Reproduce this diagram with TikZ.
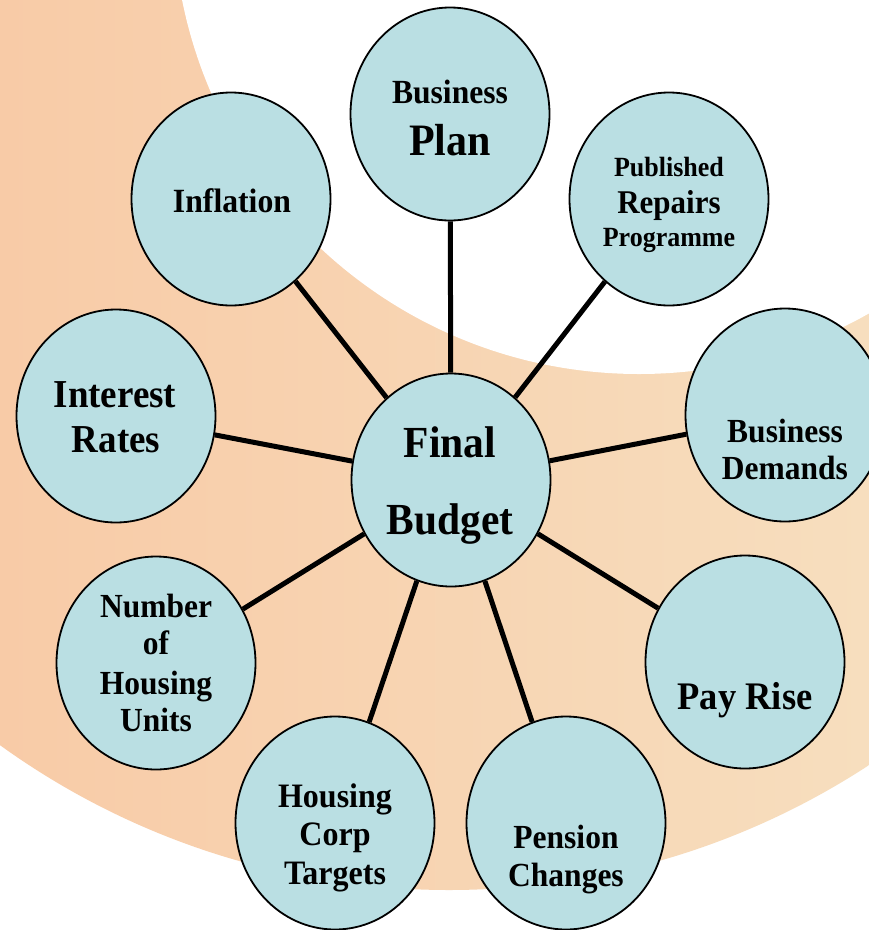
\documentclass[tikz,border=0pt]{standalone}
\usepackage{fontspec}
\setmainfont{Liberation Serif}
\usepackage{graphicx}
\usetikzlibrary{shapes.geometric}
\pgfdeclarelayer{back}
\pgfdeclarelayer{edges}
\pgfsetlayers{back,edges,main}
\definecolor{ringL}{RGB}{248,203,167}
\definecolor{ringR}{RGB}{247,222,190}
\definecolor{bubfill}{RGB}{186,223,227}
\tikzset{
  bub/.style={ellipse, draw=black, line width=1.8pt, fill=bubfill,
    minimum width=199pt, minimum height=213pt, inner sep=0pt},
  conn/.style={draw=black, line width=5pt},
  lbl/.style={anchor=base, inner sep=0pt, text=black},
}
\newcommand\lbl[5]{\node[lbl, font=\fontsize{#4pt}{#4pt}\selectfont\bfseries] (#1) at (#2,#3) {\scalebox{1}[1.07]{#5}};}
\begin{document}
\begin{tikzpicture}[x=1pt,y=-1pt]
\useasboundingbox (0,0) rectangle (869,930);
\begin{pgfonlayer}{back}
  \fill[white] (0,0) rectangle (869,930);
  \begin{scope}
    \clip (449,122) circle (768pt);
    \shade[left color=ringL, right color=ringR] (0,0) rectangle (869,930);
  \end{scope}
  \fill[white] (639,-92) circle (466pt);
\end{pgfonlayer}

\node[bub] (plan) at (450,114) {};
\node[bub] (infl) at (231,199) {};
\node[bub] (pub)  at (669,199) {};
\node[bub] (intr) at (116,416) {};
\node[bub] (fin)  at (451,480) {};
\node[bub] (dem)  at (785,415) {};
\node[bub] (num)  at (156,663) {};
\node[bub] (pay)  at (745,662) {};
\node[bub] (corp) at (335,823) {};
\node[bub] (pen)  at (566,823) {};

\begin{pgfonlayer}{edges}
  \draw[conn] (fin) -- (plan);
  \draw[conn] (fin) -- (infl);
  \draw[conn] (fin) -- (pub);
  \draw[conn] (fin) -- (intr);
  \draw[conn] (fin) -- (dem);
  \draw[conn] (fin) -- (num);
  \draw[conn] (fin) -- (pay);
  \draw[conn] (fin) -- (corp);
  \draw[conn] (fin) -- (pen);
\end{pgfonlayer}

\lbl{planA}{450}{103}{31.6}{Business}
\lbl{planB}{450}{155}{42}{Plan}
\lbl{inflA}{232}{212}{31.7}{Inflation}
\lbl{pubA}{669}{176}{26}{Published}
\lbl{pubB}{669}{213}{31}{Repairs}
\lbl{pubC}{669}{246}{26}{Programme}
\lbl{intrA}{115}{407}{37}{Interest}
\lbl{intrB}{116}{452}{37}{Rates}
\lbl{finA}{450}{457}{41.5}{Final}
\lbl{finB}{450}{534}{41.5}{Budget}
\lbl{demA}{785}{442}{31.5}{Business}
\lbl{demB}{785}{479}{31.5}{Demands}
\lbl{numA}{156}{617}{31.5}{Number}
\lbl{numB}{156}{654}{31.5}{of}
\lbl{numC}{156}{694}{31.5}{Housing}
\lbl{numD}{156}{731}{31.5}{Units}
\lbl{payA}{745}{709}{36.5}{Pay Rise}
\lbl{corpA}{335}{807}{32}{Housing}
\lbl{corpB}{335}{845}{32}{Corp}
\lbl{corpC}{335}{884}{32}{Targets}
\lbl{penA}{566}{848}{31.5}{Pension}
\lbl{penB}{566}{886}{31.5}{Changes}
\end{tikzpicture}
\end{document}
